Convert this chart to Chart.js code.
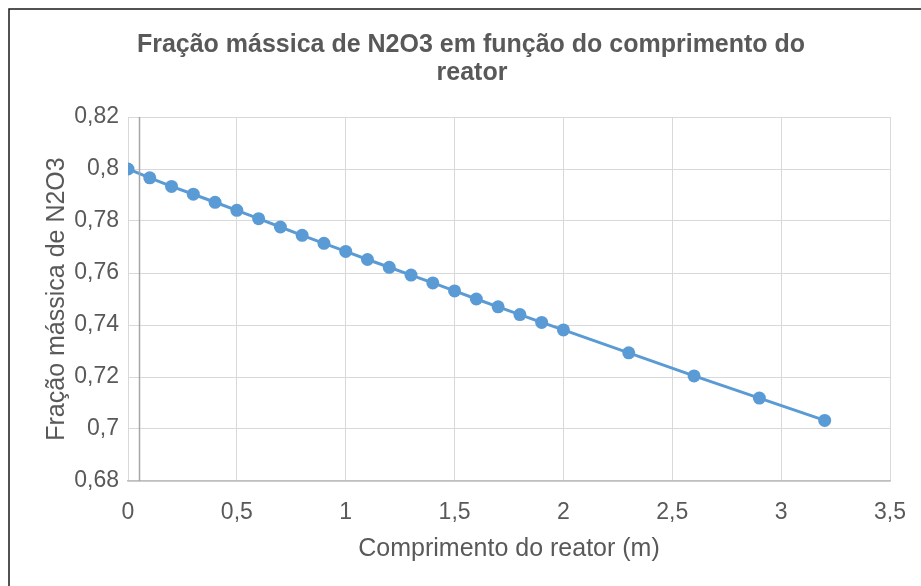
<!DOCTYPE html>
<html>
<head>
<meta charset="utf-8">
<script src="https://cdn.jsdelivr.net/npm/chart.js@4/dist/chart.umd.min.js"></script>
<style>
  html, body { margin: 0; padding: 0; background: #ffffff; overflow: hidden; }
  #wrap { position: relative; width: 921px; height: 586px; }
</style>
</head>
<body>
<div id="wrap"><canvas id="grafico" width="921" height="586"></canvas></div>
<script>
// Comprimento do reator (m)
const comprimento = [0, 0.1, 0.2, 0.3, 0.4, 0.5, 0.6, 0.7, 0.8, 0.9, 1.0,
                     1.1, 1.2, 1.3, 1.4, 1.5, 1.6, 1.7, 1.8, 1.9, 2.0,
                     2.3, 2.6, 2.9, 3.2];
// Fração mássica de N2O3 ao longo do reator
const fracaoN2O3 = [0.8000, 0.7966, 0.7933, 0.7903, 0.7872, 0.7841, 0.7809, 0.7777, 0.7745, 0.7714, 0.7683,
                    0.7652, 0.7622, 0.7592, 0.7562, 0.7531, 0.7500, 0.7470, 0.7440, 0.7410, 0.7381,
                    0.7293, 0.7204, 0.7119, 0.7033];
// Limites e passos dos eixos
const eixoX = { min: 0, max: 3.5, passo: 0.5 };
const eixoY = { min: 0.68, max: 0.82, passo: 0.02 };
const cruzamentoEixoY = 0.05;

const tituloLinhas = ['Fração mássica de N2O3 em função do comprimento do', 'reator'];
const tituloX = 'Comprimento do reator (m)';
const tituloY = 'Fração mássica de N2O3';

const FONTE = "'Liberation Sans', Arial, sans-serif";
const CINZA_TEXTO = '#595959';
const AZUL = '#5b9bd5';

const virgula = v => String(Number(v.toFixed(2))).replace('.', ',');

// Moldura, linha do eixo vertical e título do gráfico
const decoracao = {
  id: 'decoracao',
  beforeDraw(chart) {
    const ctx = chart.ctx;
    ctx.save();
    ctx.fillStyle = '#ffffff';
    ctx.fillRect(0, 0, chart.width, chart.height);
    ctx.restore();
  },
  afterDraw(chart) {
    const ctx = chart.ctx;
    const area = chart.chartArea;
    const x = chart.scales.x;
    ctx.save();
    // linha do eixo vertical
    const xp = Math.round(x.getPixelForValue(cruzamentoEixoY)) + 0.5;
    ctx.strokeStyle = '#a6a6a6';
    ctx.lineWidth = 1.5;
    ctx.beginPath();
    ctx.moveTo(xp, area.top);
    ctx.lineTo(xp, area.bottom);
    ctx.stroke();
    // moldura
    ctx.strokeStyle = '#1a1a1a';
    ctx.lineWidth = 1.5;
    ctx.strokeRect(9, 9, chart.width + 20, chart.height + 20);
    // título
    ctx.fillStyle = CINZA_TEXTO;
    ctx.font = 'bold 25px ' + FONTE;
    ctx.textAlign = 'center';
    ctx.textBaseline = 'middle';
    ctx.fillText(tituloLinhas[0], 471, 45);
    ctx.fillText(tituloLinhas[1], 472, 73);
    ctx.restore();
  }
};

new Chart(document.getElementById('grafico'), {
  type: 'scatter',
  data: {
    datasets: [{
      data: comprimento.map((c, i) => ({ x: c, y: fracaoN2O3[i] })),
      showLine: true,
      borderColor: AZUL,
      backgroundColor: AZUL,
      borderWidth: 3,
      pointRadius: 6.5,
      pointHoverRadius: 6.5,
      pointBorderWidth: 0,
      pointBackgroundColor: AZUL
    }]
  },
  options: {
    responsive: false,
    animation: false,
    devicePixelRatio: 1,
    layout: { padding: { left: 0, top: 117, right: 31, bottom: 0 } },
    plugins: { legend: { display: false }, title: { display: false }, tooltip: { enabled: false } },
    scales: {
      x: {
        type: 'linear',
        min: eixoX.min, max: eixoX.max,
        afterFit(s) { s.height = 105; s.paddingLeft = 0; s.paddingRight = 0; },
        grid: { color: '#d9d9d9', lineWidth: 1, drawTicks: false, tickLength: 0 },
        border: { display: true, color: '#bfbfbf', width: 1.5 },
        ticks: {
          stepSize: eixoX.passo, padding: 18, color: CINZA_TEXTO,
          font: { family: FONTE, size: 23 },
          callback: virgula, maxRotation: 0
        },
        title: {
          display: true, text: tituloX, color: CINZA_TEXTO,
          font: { family: FONTE, size: 25 },
          padding: { top: 0, bottom: 22 }
        }
      },
      y: {
        type: 'linear',
        min: eixoY.min, max: eixoY.max,
        afterFit(s) { s.width = 128; s.paddingTop = 0; s.paddingBottom = 0; },
        grid: { color: '#d9d9d9', lineWidth: 1, drawTicks: false, tickLength: 0 },
        border: { display: false },
        ticks: {
          stepSize: eixoY.passo, padding: 9, color: CINZA_TEXTO,
          font: { family: FONTE, size: 23 },
          callback: virgula
        },
        title: {
          display: true, text: tituloY, color: CINZA_TEXTO,
          font: { family: FONTE, size: 25 },
          padding: { top: 42, bottom: 0 }
        }
      }
    }
  },
  plugins: [decoracao]
});
</script>
</body>
</html>
